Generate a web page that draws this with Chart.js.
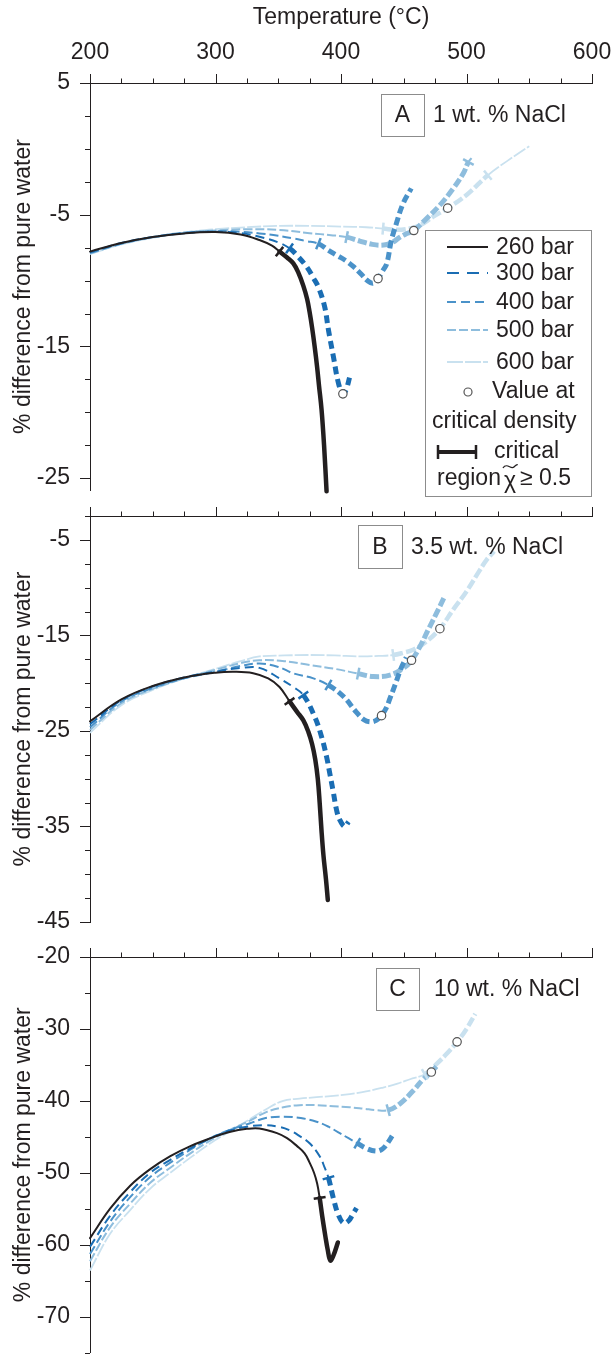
<!DOCTYPE html>
<html>
<head>
<meta charset="utf-8">
<script src="https://cdn.jsdelivr.net/npm/chart.js@4.4.1/dist/chart.umd.min.js"></script>
<style>
  body { margin: 0; background: #fff; width: 615px; height: 1361px; position: relative; overflow: hidden; }
  .panel { position: absolute; left: 0; width: 615px; }
</style>
</head>
<body>
<div class="panel" style="top:0;height:505px"><canvas id="chartA"></canvas></div>
<div class="panel" style="top:505px;height:435px"><canvas id="chartB"></canvas></div>
<div class="panel" style="top:940px;height:421px"><canvas id="chartC"></canvas></div>
<script>
// ---- data ----
const pressures = ['260 bar', '300 bar', '400 bar', '500 bar', '600 bar'];
const tempTicks = [200, 225, 250, 275, 300, 325, 350, 375, 400, 425, 450, 475, 500, 525, 550, 575, 600];
const tempLabels = [200, 300, 400, 500, 600];

// A: 1 wt.% NaCl
const a260 = [[200,-7.8],[225,-7.15],[250,-6.7],[275,-6.42],[300,-6.32],[320,-6.5],[335,-6.92],[345,-7.35],[351,-7.8],[357,-8.25],[362,-8.7],[366,-9.4],[370,-10.4],[373,-11.4],[375,-12.4],[377,-13.6],[379,-15],[381,-16.6],[382.5,-18],[384.5,-19.8],[386.5,-22.5],[388.5,-26]];
const a300 = [[200,-7.85],[225,-7.15],[250,-6.7],[275,-6.4],[300,-6.3],[320,-6.4],[335,-6.67],[350,-7.1],[359,-7.55],[366,-8.2],[373,-9],[378,-9.8],[382,-10.5],[387,-12],[390,-13.75],[394,-15.8],[398,-17.8],[401.5,-18.6],[404,-18.3],[407,-17.3]];
const a400 = [[200,-7.9],[225,-7.2],[250,-6.7],[275,-6.4],[300,-6.25],[320,-6.3],[335,-6.42],[350,-6.6],[362,-6.8],[372,-7],[382,-7.2],[390,-7.7],[397,-8.1],[404,-8.5],[410,-8.95],[416,-9.5],[421,-10],[425.5,-10.2],[429.5,-9.85],[433,-9.3],[436.5,-8.7],[440,-7],[444,-5.7],[449.5,-4.15],[456,-3]];
const a500 = [[200,-7.95],[225,-7.2],[250,-6.7],[275,-6.35],[300,-6.2],[325,-6.1],[350,-6.15],[375,-6.4],[392,-6.55],[404.5,-6.7],[415,-7],[425,-7.25],[434,-7.3],[441,-7.1],[447,-6.7],[452,-6.45],[458,-6.2],[468,-5.3],[479,-4.25],[489.5,-3],[497.5,-1.85],[501.5,-1],[504,-0.7]];
const a600 = [[200,-8],[225,-7.25],[250,-6.75],[275,-6.35],[300,-6.1],[325,-5.95],[350,-5.85],[375,-5.85],[400,-5.9],[420,-5.95],[433.5,-6.05],[444,-6.15],[455,-6.05],[463,-5.8],[473.5,-5.15],[485,-4.5],[500,-3.5],[517,-2],[532,-0.95],[550,0.2]];
const aCritical = [[351], [359], [382], [404.5, 501.5], [433.5, 517]];
const aCircles = [[401.5,-18.6],[429.5,-9.85],[458,-6.2],[485,-4.5]];
const aTicks = [5, 2.5, 0, -2.5, -5, -7.5, -10, -12.5, -15, -17.5, -20, -22.5, -25];
const aLabels = [5, -5, -15, -25];

// B: 3.5 wt.% NaCl
const b260 = [[200,-24],[225,-21.7],[250,-20.3],[275,-19.4],[300,-18.9],[315,-18.8],[330,-18.95],[342,-19.5],[351,-20.4],[359,-21.9],[365,-23],[370,-23.9],[374,-25.1],[377,-26.4],[379.5,-28],[381.5,-30],[383,-32.5],[384.5,-35.5],[386,-38],[388,-40.5],[389.5,-42.7]];
const b300 = [[200,-24.3],[225,-21.8],[250,-20.35],[275,-19.4],[300,-18.8],[320,-18.4],[335,-18.4],[351,-19.5],[362,-20.4],[370,-21.25],[379,-23.5],[384.5,-25.6],[388.5,-27.7],[391,-29.4],[394,-31.5],[396.5,-33.3],[399,-34.3],[403,-35],[406,-34.5]];
const b400 = [[200,-24.6],[225,-21.9],[250,-20.5],[275,-19.5],[300,-18.8],[320,-18.2],[335,-17.95],[350,-18.3],[362,-18.97],[378,-19.5],[390,-20.2],[402,-21.4],[412,-23],[418,-23.8],[423,-24.05],[428,-23.9],[432,-23.4],[436,-22.6],[439,-21.6],[443,-20.2],[448,-18.4],[452,-17.3]];
const b500 = [[200,-24.9],[225,-22.1],[250,-20.6],[275,-19.5],[300,-18.6],[320,-17.9],[335,-17.6],[355,-17.7],[375,-18.1],[395,-18.5],[413.7,-19],[425.7,-19.3],[439,-19.15],[449.6,-18.45],[456,-17.65],[462.8,-16.2],[469.5,-14.4],[476,-12.7],[483,-10.8]];
const b600 = [[200,-25.2],[225,-22.3],[250,-20.7],[275,-19.5],[300,-18.5],[320,-17.7],[335,-17.2],[355,-17.1],[375,-17.05],[395,-17.1],[415,-17.2],[430,-17.15],[441.6,-17.05],[450,-16.8],[457.5,-16.5],[468,-15.65],[479,-14.25],[489.4,-12.3],[500,-10.4],[510,-8.3],[516,-7.1],[522,-6.2]];
const bCritical = [[359], [370], [390], [413.7], [441.6]];
const bCircles = [[432.3,-23.4],[456.2,-17.6],[478.8,-14.3]];
const bTicks = [-2.5, -5, -7.5, -10, -12.5, -15, -17.5, -20, -22.5, -25, -27.5, -30, -32.5, -35, -37.5, -40, -42.5, -45];
const bLabels = [-5, -15, -25, -35, -45];

// C: 10 wt.% NaCl
const c260 = [[200,-59.1],[216,-55],[232,-51.8],[248,-49.5],[264,-47.7],[280,-46.3],[296,-45.2],[312,-44.3],[325,-43.9],[335,-43.85],[349,-44.5],[357,-45.2],[365,-46.3],[371,-47.3],[375,-48.6],[378.5,-50],[381,-51.5],[383,-53.5],[385,-56],[387.5,-58.8],[389.5,-60.8],[391.5,-62.2],[394,-61.5],[397.5,-59.7]];
const c300 = [[200,-60.3],[216,-56],[232,-52.7],[248,-50],[264,-48.2],[280,-46.6],[296,-45.2],[312,-44.1],[325,-43.6],[338,-43.4],[350,-43.6],[359,-44.1],[367,-44.9],[375,-45.9],[383,-47.7],[387,-49.3],[390,-50.7],[394,-53.6],[398,-55.9],[402,-57],[406,-56.7],[409,-55.9],[412.4,-54.9]];
const c400 = [[200,-61.3],[216,-56.8],[232,-53.4],[248,-50.6],[264,-48.6],[280,-46.8],[296,-45.2],[312,-44],[327,-43.15],[340,-42.4],[354,-42.2],[368,-42.4],[380.5,-42.9],[390,-43.6],[399,-44.5],[406,-45.2],[413,-45.9],[420,-46.6],[428,-47],[433,-46.7],[437,-45.9],[442,-44.5]];
const c500 = [[200,-62.3],[216,-57.6],[232,-54.3],[248,-51.4],[264,-49.3],[280,-47.3],[296,-45.5],[312,-44],[327,-42.8],[340,-41.6],[354,-40.9],[367,-40.6],[380.5,-40.6],[394,-40.75],[407,-40.9],[418,-41.1],[428,-41.3],[437.6,-41.3],[447,-40.4],[457.5,-38.6],[465.5,-37],[472,-36],[476,-35.2]];
const c600 = [[200,-63.6],[216,-58.5],[232,-55.2],[248,-52.2],[264,-50],[280,-47.9],[296,-45.9],[312,-44.2],[327,-42.6],[340,-41.2],[354,-40],[367,-39.7],[380.5,-39.5],[394,-39.3],[407,-39.06],[420,-38.7],[433.6,-38.15],[445,-37.6],[455,-37],[466.8,-36.3],[476,-34.9],[484,-33.5],[492.5,-31.8],[500,-30],[507,-27.9]];
const cCritical = [[383], [390], [413], [437.6], [466.8]];
const cCircles = [[472,-36],[492.5,-31.8]];
const cTicks = [-20, -25, -30, -35, -40, -45, -50, -55, -60, -65, -70, -75];
const cLabels = [-20, -30, -40, -50, -60, -70];

// ---- styles ----
const ink = '#231f20';
const fontCss = "23px 'Liberation Sans', Arial, sans-serif";
const colors = ['#231f20', '#1a6db3', '#4a92c9', '#8ebddd', '#c9e1ef'];
const thinWidth = [2, 2, 2, 2, 1.8];
const thickWidth = [4.5, 5, 5, 5, 4.5];
const thinDash = [[], [9, 5], [9, 4], [9, 3], [14, 2]];
const thickDash = [[], [8, 5], [8, 4], [9, 3], [10, 3]];
const legendDash = [[], [12, 8], [9, 5], [9, 3], [16, 2]];

Chart.defaults.font.family = "'Liberation Sans', Arial, sans-serif";
Chart.defaults.font.size = 23;
Chart.defaults.color = ink;

function seriesDatasets(series, critical) {
    return series.map((pts, i) => {
        const start = critical[i][0];
        const end = critical[i][1] !== undefined ? critical[i][1] : Infinity;
        const inside = c => c.p0.parsed.x >= start && c.p1.parsed.x <= end;
        return {
            label: pressures[i],
            data: pts.map(([x, y]) => ({ x, y })),
            borderColor: colors[i],
            borderWidth: thinWidth[i],
            borderDash: thinDash[i],
            borderCapStyle: i === 0 ? 'round' : 'butt',
            pointRadius: 0,
            tension: 0.4,
            clip: false,
            segment: {
                borderWidth: c => inside(c) ? thickWidth[i] : thinWidth[i],
                borderDash: c => inside(c) ? thickDash[i] : thinDash[i]
            }
        };
    });
}

// short ticks across the curve where the critical region starts / ends
function markerDataset(series, critical) {
    const data = [];
    series.forEach((pts, i) => {
        critical[i].forEach(t => {
            const k = pts.findIndex(p => p[0] === t);
            data.push({
                x: pts[k][0], y: pts[k][1],
                prev: pts[Math.max(k - 1, 0)], next: pts[Math.min(k + 1, pts.length - 1)],
                color: colors[i]
            });
        });
    });
    return {
        type: 'scatter',
        data: data,
        pointStyle: 'line',
        pointRadius: 6,
        pointBorderWidth: 2.5,
        pointBorderColor: c => c.raw ? c.raw.color : ink,
        rotation: c => {
            if (!c.raw) return 0;
            const xs = c.chart.scales.x, ys = c.chart.scales.y;
            const dx = xs.getPixelForValue(c.raw.next[0]) - xs.getPixelForValue(c.raw.prev[0]);
            const dy = ys.getPixelForValue(c.raw.next[1]) - ys.getPixelForValue(c.raw.prev[1]);
            return Math.atan2(dy, dx) * 180 / Math.PI + 90;
        },
        clip: false
    };
}

function circleDataset(points) {
    return {
        type: 'scatter',
        data: points.map(([x, y]) => ({ x, y })),
        pointRadius: 4.2,
        pointBackgroundColor: '#fff',
        pointBorderColor: '#555',
        pointBorderWidth: 1.2,
        clip: false
    };
}

const tickMarks = {
    id: 'tickMarks',
    afterDraw(chart, args, opts) {
        const { ctx, chartArea, scales: { x, y } } = chart;
        ctx.save();
        ctx.strokeStyle = ink;
        ctx.lineWidth = 1;
        ctx.beginPath();
        tempTicks.forEach(t => {
            const px = Math.round(x.getPixelForValue(t)) + 0.5;
            const len = tempLabels.includes(t) ? 9 : 4.5;
            ctx.moveTo(px, chartArea.top);
            ctx.lineTo(px, chartArea.top - len);
        });
        opts.ticks.forEach(v => {
            const py = Math.round(y.getPixelForValue(v)) + 0.5;
            const len = opts.labels.includes(v) ? 10 : 5;
            ctx.moveTo(chartArea.left, py);
            ctx.lineTo(chartArea.left - len, py);
        });
        ctx.stroke();
        ctx.restore();
    }
};

function drawLegend(ctx) {
    ctx.save();
    ctx.fillStyle = '#fff';
    ctx.fillRect(425.5, 230.5, 166, 266);
    ctx.strokeStyle = '#8c8c8c';
    ctx.lineWidth = 1;
    ctx.strokeRect(425.5, 230.5, 166, 266);
    ctx.font = fontCss;
    ctx.textBaseline = 'middle';
    const rows = [247, 273, 302, 330, 362];
    pressures.forEach((name, i) => {
        ctx.beginPath();
        ctx.strokeStyle = colors[i];
        ctx.lineWidth = i === 4 ? 1.8 : 2;
        ctx.setLineDash(legendDash[i]);
        ctx.moveTo(447, rows[i]);
        ctx.lineTo(488, rows[i]);
        ctx.stroke();
        ctx.setLineDash([]);
        ctx.fillStyle = ink;
        ctx.fillText(name, 496, rows[i] + 1);
    });
    ctx.beginPath();
    ctx.arc(468, 392, 4, 0, Math.PI * 2);
    ctx.fillStyle = '#fff';
    ctx.fill();
    ctx.strokeStyle = '#555';
    ctx.lineWidth = 1.2;
    ctx.stroke();
    ctx.fillStyle = ink;
    ctx.fillText('Value at', 492, 392);
    ctx.fillText('critical density', 432, 422);
    // critical region symbol
    ctx.strokeStyle = ink;
    ctx.lineWidth = 4;
    ctx.beginPath();
    ctx.moveTo(437, 452);
    ctx.lineTo(477, 452);
    ctx.stroke();
    ctx.lineWidth = 2.5;
    ctx.beginPath();
    ctx.moveTo(438, 445); ctx.lineTo(438, 459);
    ctx.moveTo(476, 445); ctx.lineTo(476, 459);
    ctx.stroke();
    ctx.fillText('critical', 494, 452);
    let x = 437;
    ctx.fillText('region', x, 479);
    x += ctx.measureText('region').width + 3;
    ctx.fillText('\u03c7', x, 482);
    const chiW = ctx.measureText('\u03c7').width;
    ctx.lineWidth = 1.3;
    ctx.beginPath();
    ctx.moveTo(x - 1, 468);
    ctx.bezierCurveTo(x + 3, 462, x + 7, 470, x + 10, 467);
    ctx.bezierCurveTo(x + 12, 465, x + 14, 464, x + chiW + 1, 465);
    ctx.stroke();
    x += chiW + 4;
    ctx.fillText('\u2265 0.5', x, 479);
    ctx.restore();
}

const panelDecor = {
    id: 'panelDecor',
    afterDraw(chart, args, opts) {
        const ctx = chart.ctx;
        const [bx, by, bw, bh] = opts.box;
        ctx.save();
        ctx.fillStyle = '#fff';
        ctx.fillRect(bx + 0.5, by + 0.5, bw, bh);
        ctx.strokeStyle = '#8c8c8c';
        ctx.lineWidth = 1;
        ctx.strokeRect(bx + 0.5, by + 0.5, bw, bh);
        ctx.font = fontCss;
        ctx.fillStyle = ink;
        ctx.textBaseline = 'middle';
        ctx.textAlign = 'center';
        ctx.fillText(opts.letter, bx + bw / 2, by + bh / 2 + 1);
        ctx.textAlign = 'left';
        ctx.fillText(opts.text, opts.textX, by + bh / 2 + 1);
        ctx.restore();
        if (opts.legend) drawLegend(ctx);
    }
};

function makePanel(canvasId, p) {
    const datasets = [
        circleDataset(p.circles),
        markerDataset(p.series, p.critical),
        ...seriesDatasets(p.series, p.critical)
    ];
    return new Chart(document.getElementById(canvasId), {
        type: 'line',
        data: { datasets: datasets },
        options: {
            responsive: true,
            maintainAspectRatio: false,
            animation: false,
            events: [],
            layout: { padding: { left: 0, right: 23, top: 0, bottom: p.padBottom } },
            plugins: {
                legend: { display: false },
                tooltip: { enabled: false },
                tickMarks: { ticks: p.yTicks, labels: p.yLabels },
                panelDecor: p.decor
            },
            scales: {
                x: {
                    type: 'linear',
                    position: 'top',
                    min: 200,
                    max: 600,
                    grid: { display: false },
                    border: { color: ink, width: 1 },
                    afterBuildTicks: s => { s.ticks = tempTicks.map(v => ({ value: v })); },
                    afterFit: s => {
                        s.height = p.xAxisHeight;
                        s.paddingLeft = 0;
                        s.paddingRight = 0;
                    },
                    ticks: {
                        display: p.showTemp,
                        padding: 9,
                        maxRotation: 0,
                        autoSkip: false,
                        callback: v => tempLabels.includes(v) ? String(v) : ''
                    },
                    title: { display: p.showTemp, text: 'Temperature (°C)', padding: { top: 4, bottom: 0 } }
                },
                y: {
                    type: 'linear',
                    min: p.yMin,
                    max: p.yMax,
                    grid: { display: false },
                    border: { color: ink, width: 1 },
                    afterBuildTicks: s => { s.ticks = p.yTicks.map(v => ({ value: v })); },
                    afterFit: s => {
                        s.width = 90;
                        s.paddingTop = 0;
                        s.paddingBottom = 0;
                    },
                    ticks: {
                        padding: 12,
                        autoSkip: false,
                        callback: v => p.yLabels.includes(v) ? String(v) : ''
                    },
                    title: { display: true, text: '% difference from pure water', padding: { top: 10, bottom: 0 } }
                }
            }
        },
        plugins: [tickMarks, panelDecor]
    });
}

document.addEventListener('DOMContentLoaded', () => {
    makePanel('chartA', {
        series: [a260, a300, a400, a500, a600],
        critical: aCritical, circles: aCircles,
        yTicks: aTicks, yLabels: aLabels, yMin: -25.9, yMax: 5,
        xAxisHeight: 83, padBottom: 15, showTemp: true,
        decor: { letter: 'A', text: '1 wt. % NaCl', box: [381, 94, 43, 42], textX: 433, legend: true }
    });
    makePanel('chartB', {
        series: [b260, b300, b400, b500, b600],
        critical: bCritical, circles: bCircles,
        yTicks: bTicks, yLabels: bLabels, yMin: -45, yMax: -2.5,
        xAxisHeight: 11, padBottom: 18, showTemp: false,
        decor: { letter: 'B', text: '3.5 wt. % NaCl', box: [358, 20, 44, 43], textX: 411 }
    });
    makePanel('chartC', {
        series: [c260, c300, c400, c500, c600],
        critical: cCritical, circles: cCircles,
        yTicks: cTicks, yLabels: cLabels, yMin: -75, yMax: -20,
        xAxisHeight: 17, padBottom: 0, showTemp: false,
        decor: { letter: 'C', text: '10 wt. % NaCl', box: [376, 28, 43, 42], textX: 434 }
    });
});
</script>
</body>
</html>
